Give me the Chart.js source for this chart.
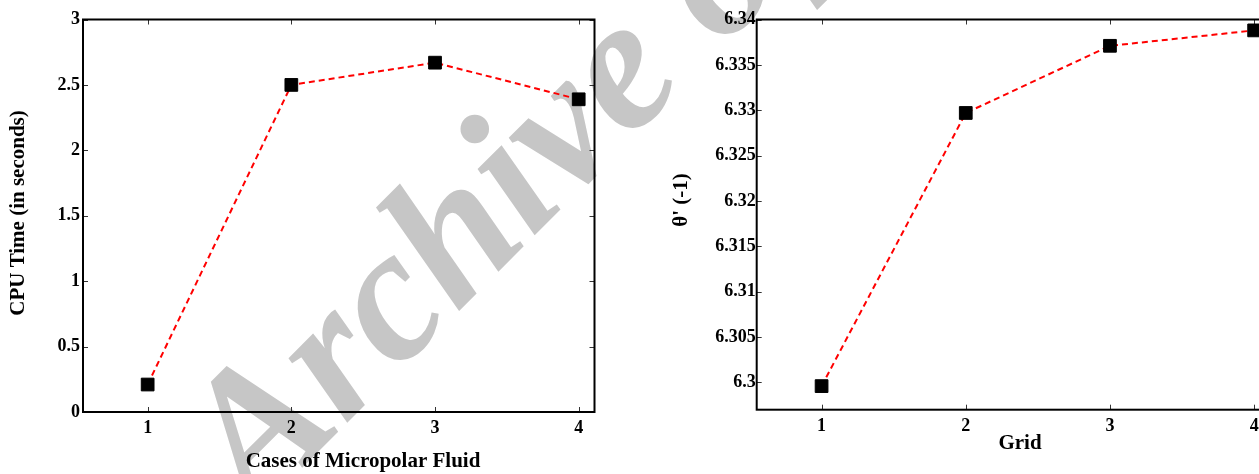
<!DOCTYPE html>
<html>
<head>
<meta charset="utf-8">
<script src="https://cdn.jsdelivr.net/npm/chart.js@4/dist/chart.umd.min.js"></script>
<style>
  html, body { margin: 0; padding: 0; background: #fff; overflow: hidden; width: 1259px; height: 474px; }
  canvas { position: absolute; top: 0; }
  #wm { left: 0; }
  #cpu { left: 0; }
  #grid { left: 640px; }
</style>
</head>
<body>
<canvas id="wm" width="1259" height="474"></canvas>
<canvas id="cpu" width="640" height="474"></canvas>
<canvas id="grid" width="650" height="474"></canvas>
<script>
// Left panel: CPU time for each micropolar fluid case
const caseValues = [1, 2, 3, 4];
const cpuTime = [0.21, 2.5, 2.67, 2.39];
const cpuTicks = [0, 0.5, 1, 1.5, 2, 2.5, 3];
const cpuTickLabels = ['0', '0.5', '1', '1.5', '2', '2.5', '3'];

// Right panel: θ'(-1) for each grid
const gridValues = [1, 2, 3, 4];
const thetaPrime = [6.2996, 6.3297, 6.3371, 6.3388];
const thetaTicks = [6.3, 6.305, 6.31, 6.315, 6.32, 6.325, 6.33, 6.335, 6.34];
const thetaTickLabels = ['6.3', '6.305', '6.31', '6.315', '6.32', '6.325', '6.33', '6.335', '6.34'];

const xTicks = [1, 2, 3, 4];
const xTickLabels = ['1', '2', '3', '4'];

const SERIF = '"Liberation Serif", "Times New Roman", serif';

// Background watermark
(function () {
  const ctx = document.getElementById('wm').getContext('2d');
  ctx.save();
  ctx.font = 'italic bold 190px ' + SERIF;
  ctx.fillStyle = '#c6c6c6';
  ctx.translate(255, 515);
  ctx.rotate(-Math.PI / 4);
  ctx.textBaseline = 'alphabetic';
  ctx.fillText('Archive of SID', 0, 0);
  ctx.restore();
})();

function makePanel(id, xs, ys, yMin, yMax, yTicks, yTickLabels, area, titles, labelPad) {
  const canvas = document.getElementById(id);
  const W = canvas.width, H = canvas.height;

  const frame = {
    id: 'frame',
    beforeDatasetsDraw(chart) {
      const { ctx, chartArea: a, scales } = chart;
      ctx.save();
      // inward tick marks on all four sides
      ctx.strokeStyle = '#333';
      ctx.lineWidth = 1;
      const tl = 5;
      ctx.beginPath();
      xTicks.forEach(v => {
        const px = Math.round(scales.x.getPixelForValue(v)) + 0.5;
        ctx.moveTo(px, a.bottom); ctx.lineTo(px, a.bottom - tl);
        ctx.moveTo(px, a.top); ctx.lineTo(px, a.top + tl);
      });
      yTicks.forEach(v => {
        const py = Math.round(scales.y.getPixelForValue(v)) + 0.5;
        ctx.moveTo(a.left, py); ctx.lineTo(a.left + tl, py);
        ctx.moveTo(a.right, py); ctx.lineTo(a.right - tl, py);
      });
      ctx.stroke();
      // axes box
      ctx.strokeStyle = '#000';
      ctx.lineWidth = 2;
      ctx.strokeRect(a.left, a.top, a.right - a.left, a.bottom - a.top);
      ctx.restore();
    },
    afterDraw(chart) {
      const ctx = chart.ctx;
      ctx.save();
      ctx.font = 'bold 21px ' + SERIF;
      ctx.fillStyle = '#000';
      ctx.textAlign = 'center';
      ctx.textBaseline = 'middle';
      ctx.fillText(titles.x.text, titles.x.cx, titles.x.cy);
      ctx.translate(titles.y.cx, titles.y.cy);
      ctx.rotate(-Math.PI / 2);
      ctx.fillText(titles.y.text, 0, 0);
      ctx.restore();
    }
  };

  return new Chart(canvas, {
    type: 'line',
    data: {
      datasets: [{
        data: xs.map((x, i) => ({ x: x, y: ys[i] })),
        borderColor: '#ff0000',
        borderWidth: 2,
        borderDash: [6, 4],
        pointStyle: 'rect',
        pointRadius: 9,
        pointBackgroundColor: '#000',
        pointBorderColor: '#000',
        pointBorderWidth: 1,
        tension: 0,
        clip: false
      }]
    },
    options: {
      responsive: false,
      animation: false,
      events: [],
      layout: { padding: { left: 0, top: area.top, right: W - area.right, bottom: 0 } },
      plugins: { legend: { display: false }, tooltip: { enabled: false } },
      scales: {
        x: {
          type: 'linear',
          min: 0.55,
          max: 4.11,
          afterBuildTicks: s => { s.ticks = xTicks.map(v => ({ value: v })); },
          afterFit: s => { s.height = H - area.bottom; },
          grid: { display: false, drawTicks: false },
          border: { display: false },
          ticks: {
            padding: 6,
            maxRotation: 0,
            color: '#000',
            font: { family: SERIF, size: 18, weight: 'bold' },
            callback: v => xTickLabels[xTicks.indexOf(v)]
          }
        },
        y: {
          type: 'linear',
          min: yMin,
          max: yMax,
          afterBuildTicks: s => { s.ticks = yTicks.map(v => ({ value: v })); },
          afterFit: s => { s.width = area.left; },
          grid: { display: false, drawTicks: false },
          border: { display: false },
          ticks: {
            padding: labelPad,
            color: '#000',
            font: { family: SERIF, size: 18, weight: 'bold' },
            callback: v => {
              const i = yTicks.findIndex(t => Math.abs(t - v) < 1e-9);
              return i >= 0 ? yTickLabels[i] : '';
            }
          }
        }
      }
    },
    plugins: [frame]
  });
}

makePanel('cpu', caseValues, cpuTime, 0, 3, cpuTicks, cpuTickLabels,
  { left: 83, top: 19.5, right: 594.5, bottom: 412 },
  { x: { text: 'Cases of Micropolar Fluid', cx: 363, cy: 462 },
    y: { text: 'CPU Time (in seconds)', cx: 19, cy: 213 } },
  3);

makePanel('grid', gridValues, thetaPrime, 6.297, 6.34, thetaTicks, thetaTickLabels,
  { left: 116.7, top: 19.5, right: 630, bottom: 409.7 },
  { x: { text: 'Grid', cx: 380, cy: 444 },
    y: { text: "θ' (-1)", cx: 42, cy: 200 } },
  1);
</script>
</body>
</html>
